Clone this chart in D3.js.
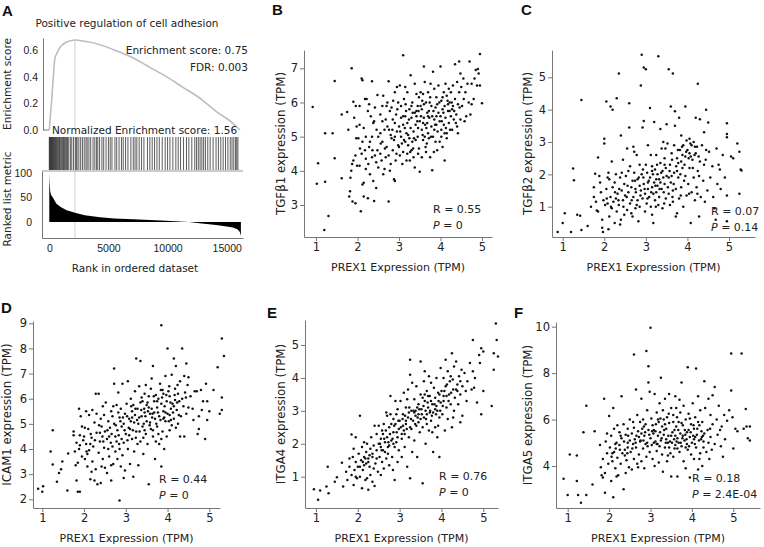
<!DOCTYPE html>
<html><head><meta charset="utf-8">
<script src="https://cdn.jsdelivr.net/npm/d3@7"></script>
<style>
body{margin:0;background:#fff;}
svg{display:block;font-family:"DejaVu Sans",Verdana,sans-serif;}
.axis path,.axis line{stroke:#777;}
.axis text{fill:#222;}
</style></head><body>
<svg id="c" width="764" height="547"></svg>
<script>
// ---------- Panel A data ----------
const esRanks  = [0,100,200,300,480,700,900,1200,1470,1800,2170,3000,4290,5500,7100,8500,9900,11300,12700,14100,15530,16120];
const esValues = [0,0.12,0.22,0.35,0.54,0.585,0.62,0.645,0.66,0.67,0.675,0.665,0.64,0.60,0.54,0.47,0.40,0.32,0.24,0.14,0.05,0.0];
const peakRank = 2170;
const hitRanks = [0,30,60,90,120,150,180,220,260,300,340,380,420,470,520,570,620,680,740,800,860,920,990,1060,1130,1200,1280,1360,1450,1540,1640,
 1780,1900,2050,2200,2280,2350,2500,2650,2800,2950,3100,3200,3350,3500,3700,3850,4000,4100,4250,4450,4600,4800,5000,5150,5300,5550,5700,5900,
 6100,6250,6450,6650,6900,7100,7250,7400,7600,7800,8000,8300,8500,8700,8900,9100,9300,9550,9800,10000,10200,10450,10700,10900,11100,11350,
 11600,11800,12050,12300,12450,12600,12750,12900,13050,13200,13400,13600,13850,14100,14300,14500,14700,14900,15100,15300,15450,15600,15750,15850,15950];
const metricRanks  = [0,30,80,150,300,600,1000,1470,2170,3000,4290,5500,7100,8500,9900,11000,11800,12700,14100,15000,15530,15900,16100,16200];
const metricValues = [100,80,62,55,50,37,30,24,19,14,9.6,7,5.4,4,2.7,1,0,-2.7,-6,-9,-11,-15,-20,-28];
const esTicks = [0.0,0.2,0.4,0.6];
const metricTicks = [0,50,100];
const rankTicks = [0,5000,10000,15000];
const gseaTitle = "Positive regulation of cell adhesion";
const gseaStats = ["Enrichment score: 0.75","FDR: 0.003","Normalized Enrichment score: 1.56"];

// ---------- Scatter data (PREX1 TPM, gene TPM) ----------
const xTicks = [1,2,3,4,5];
const pointsB = [[0.92,5.87],[1.02,3.62],[1.05,4.22],[1.22,5.1],[1.4,5.1],[1.22,3.68],[1.3,2.68],[1.2,2.27],[1.45,6.63],[1.45,4.37],
[1.62,3.78],[1.62,5.65],[1.75,5.72],[1.8,3.25],[1.82,3.4],[1.86,7.0],[1.88,3.1],[1.85,4.0],[1.87,4.2],[1.9,6.02],[1.92,5.55],[1.95,4.45],[1.97,4.95],[1.98,5.3],[1.83,3.8],[1.9,4.3],[1.99,4.15],[1.96,5.9],[1.78,5.2],[1.95,3.05],
[2.02,4.95],[2.05,5.35],[2.05,4.15],[2.08,2.82],[2.1,6.7],[2.12,6.65],[2.1,4.5],[2.12,3.6],[2.15,3.65],[2.15,3.25],[2.18,6.1],[2.2,5.0],[2.2,4.35],[2.22,6.1],[2.25,3.2],[2.25,5.75],[2.28,4.7],[2.3,4.85],[2.3,3.9],[2.32,5.6],[2.35,6.62],[2.35,4.4],[2.38,5.4],[2.38,3.7],[2.4,3.12],[2.4,5.45],[2.42,4.45],[2.45,4.25],[2.45,3.5],[2.48,6.22],[2.5,5.0],[2.5,4.1],[2.15,5.25],[2.28,5.95],[2.42,5.85],[2.05,5.9],[2.2,4.05],[2.35,5.0],[2.48,4.6],[2.12,4.85],
[2.55,5.65],[2.55,4.5],[2.58,4.3],[2.6,5.9],[2.6,4.85],[2.62,3.9],[2.65,5.2],[2.65,4.05],[2.68,5.5],[2.7,4.7],[2.72,6.0],[2.72,5.3],[2.75,6.62],[2.75,3.1],[2.75,4.45],[2.78,5.75],[2.8,5.05],[2.8,4.2],[2.82,5.85],[2.85,4.6],[2.85,5.5],[2.88,3.75],[2.88,4.9],[2.9,3.7],[2.9,6.3],[2.9,5.4],[2.92,4.3],[2.95,6.45],[2.95,5.15],[2.98,4.75],[2.98,6.0],[2.55,5.1],[2.6,5.45],[2.68,4.4],[2.7,5.9],[2.82,4.95],[2.93,5.65],[2.62,6.2],[2.78,4.0],[2.86,6.05],
[3.0,5.3],[3.0,4.7],[3.02,6.5],[3.05,5.9],[3.05,5.0],[3.08,4.2],[3.1,7.38],[3.1,5.35],[3.1,4.55],[3.12,6.1],[3.15,4.85],[3.15,5.6],[3.18,5.1],[3.18,4.3],[3.2,6.3],[3.2,5.4],[3.22,4.75],[3.25,5.8],[3.25,4.95],[3.28,6.8],[3.28,5.25],[3.3,4.6],[3.3,5.55],[3.32,6.0],[3.35,5.15],[3.35,4.4],[3.38,6.55],[3.38,5.7],[3.4,4.9],[3.4,5.35],[3.42,6.25],[3.45,5.0],[3.45,5.9],[3.48,4.65],[3.48,6.15],[3.5,5.45],[3.5,3.97],[3.12,4.9],[3.22,5.05],[3.32,4.85],[3.42,5.6],[3.05,5.55],[3.15,6.45],[3.38,4.1],[3.26,4.3],[3.46,5.25],[3.02,4.45],
[3.52,6.3],[3.55,5.2],[3.55,5.8],[3.58,4.9],[3.58,6.25],[3.6,7.05],[3.6,5.55],[3.62,5.0],[3.65,6.0],[3.65,4.55],[3.68,5.4],[3.7,6.3],[3.7,5.1],[3.72,5.75],[3.75,4.4],[3.75,6.15],[3.78,5.3],[3.78,5.9],[3.8,4.02],[3.8,5.6],[3.82,6.9],[3.82,5.0],[3.85,6.4],[3.85,5.5],[3.88,4.85],[3.88,5.85],[3.9,6.15],[3.9,5.35],[3.92,4.6],[3.95,5.7],[3.95,6.5],[3.98,5.45],[3.98,4.85],[3.55,4.4],[3.62,6.6],[3.72,4.95],[3.68,5.7],[3.85,5.2],[3.92,5.95],[3.76,6.55],[3.58,5.4],[3.66,5.25],
[4.0,7.05],[4.0,5.6],[4.02,6.05],[4.02,5.0],[4.05,5.8],[4.05,4.7],[4.08,6.3],[4.08,5.35],[4.1,5.9],[4.1,4.3],[4.12,6.55],[4.12,5.55],[4.15,6.2],[4.15,5.1],[4.18,5.75],[4.2,6.4],[4.2,5.4],[4.22,6.0],[4.25,5.6],[4.25,6.3],[4.28,5.2],[4.3,5.9],[4.3,6.5],[4.32,5.5],[4.35,7.12],[4.35,6.1],[4.38,5.65],[4.4,6.6],[4.4,5.3],[4.42,5.95],[4.45,7.2],[4.45,6.3],[4.48,5.5],[4.48,6.85],[4.05,6.15],[4.18,5.95],[4.28,5.8],[4.42,5.1],[4.15,4.95],
[4.5,6.45],[4.52,5.9],[4.55,6.7],[4.6,6.3],[4.62,5.6],[4.65,6.55],[4.7,7.2],[4.72,5.65],[4.75,5.95],[4.75,6.55],[4.8,6.1],[4.82,6.7],[4.88,6.5],[4.9,6.98],[4.92,6.85],[4.95,7.42],[4.95,6.5],[5.0,5.98],[4.58,5.45],[4.68,6.0],[4.85,6.95],
[2.84,5.2],[2.96,5.8],[3.03,5.15],[3.07,4.8],[3.14,5.25],[3.17,5.75],[3.24,5.5],[3.27,4.55],[3.33,5.7],[3.36,4.95],[3.44,5.45],[3.47,5.75],[3.53,5.6],[3.57,5.05],[3.63,5.35],[3.67,4.8],[3.73,5.55],[3.77,5.0],[3.83,5.75],[3.87,5.35],[3.93,5.15],[3.97,6.0],[4.03,5.45],[4.07,5.7],[4.13,5.25],[4.17,6.05],[4.23,5.2],[4.27,6.0],[4.33,5.75],[4.37,5.4],[3.34,4.65],[3.56,6.05],[3.74,6.0],[3.46,4.5],[3.16,5.95],[2.94,4.5],[2.76,5.2],[2.66,4.65],[2.46,5.2],[2.26,4.2],[2.56,4.8],[2.36,4.6],[2.18,4.6],[2.06,4.65],[3.64,4.7],[3.84,4.55],[4.02,5.2],[4.22,5.75],[4.46,5.85],[4.56,6.1],[3.52,5.9],[3.3,5.9],[3.1,5.6],[3.2,4.5],[2.9,5.0],[3.6,5.95],[3.9,5.6],[4.1,5.1],[3.42,5.75],[3.7,5.6]];

const pointsC = [[0.88,0.22],[1.0,0.5],[1.05,0.8],[1.2,0.22],[1.25,2.18],[1.27,1.82],[1.35,0.75],[1.42,0.72],[1.45,0.28],[1.45,4.3],[1.6,0.4],[1.68,1.0],[1.75,1.6],[1.78,2.02],[1.85,2.52],[1.82,0.88],[1.85,0.85],[1.95,0.35],[1.97,0.22],[2.0,3.1],[2.0,2.95],[1.75,1.3],[1.8,1.15],[1.9,1.75],[1.92,1.45],[1.95,0.6],[1.98,1.2],[1.88,1.95],
[2.02,1.05],[2.05,4.25],[2.05,1.55],[2.08,1.9],[2.1,0.3],[2.1,2.05],[2.12,0.7],[2.15,4.1],[2.15,1.3],[2.18,0.95],[2.2,4.0],[2.2,1.6],[2.22,1.15],[2.25,0.5],[2.25,1.75],[2.28,2.0],[2.3,4.35],[2.3,0.85],[2.32,1.4],[2.35,5.12],[2.35,1.05],[2.38,1.9],[2.4,3.2],[2.4,0.6],[2.42,1.5],[2.45,1.2],[2.45,2.45],[2.48,0.75],[2.48,1.7],[2.5,1.35],[2.12,1.85],[2.28,1.25],[2.38,0.45],[2.18,2.4],[2.08,1.1],[2.42,2.05],
[2.52,1.95],[2.55,0.9],[2.55,2.8],[2.58,1.45],[2.6,3.45],[2.6,4.2],[2.62,1.1],[2.62,2.25],[2.65,1.6],[2.68,0.7],[2.7,2.85],[2.7,1.3],[2.72,2.05],[2.75,1.55],[2.75,0.95],[2.78,2.6],[2.8,1.2],[2.8,1.85],[2.82,0.55],[2.85,2.3],[2.85,1.0],[2.88,4.75],[2.88,1.5],[2.9,5.7],[2.9,2.0],[2.92,3.45],[2.92,1.25],[2.95,5.3],[2.95,3.65],[2.95,1.7],[2.98,0.85],[3.0,5.25],[3.0,2.3],[2.58,2.1],[2.68,1.8],[2.78,1.05],[2.65,0.8],[2.85,1.65],[2.72,2.7],[2.98,1.4],
[3.02,1.1],[3.05,1.55],[3.05,2.9],[3.08,1.3],[3.1,4.05],[3.1,1.9],[3.12,1.0],[3.15,2.25],[3.15,1.6],[3.18,0.5],[3.2,3.62],[3.2,1.75],[3.22,1.2],[3.25,2.6],[3.25,1.45],[3.28,2.0],[3.3,5.65],[3.3,1.05],[3.32,1.85],[3.35,3.4],[3.35,2.35],[3.38,1.55],[3.4,2.1],[3.4,0.95],[3.42,3.0],[3.45,1.7],[3.45,2.5],[3.48,1.25],[3.5,3.55],[3.5,1.95],[3.12,2.6],[3.22,2.15],[3.28,1.65],[3.38,2.8],[3.05,1.75],[3.18,1.4],[3.48,2.2],[3.32,1.3],[3.42,1.9],[3.15,0.75],
[3.52,2.95],[3.55,5.25],[3.55,1.4],[3.58,2.3],[3.6,4.1],[3.6,1.75],[3.62,2.65],[3.65,5.12],[3.65,1.15],[3.68,2.05],[3.7,3.95],[3.7,3.5],[3.72,1.55],[3.75,2.5],[3.75,0.8],[3.78,1.9],[3.8,3.75],[3.8,1.25],[3.82,2.75],[3.85,1.6],[3.85,3.2],[3.88,2.2],[3.9,1.0],[3.9,2.9],[3.92,1.8],[3.95,4.1],[3.95,2.55],[3.98,1.35],[3.98,3.05],[3.58,1.05],[3.68,2.9],[3.78,2.35],[3.88,2.6],[3.62,1.95],[3.72,0.7],
[4.0,2.75],[4.02,1.7],[4.05,3.1],[4.05,2.2],[4.08,0.5],[4.1,2.9],[4.1,1.45],[4.12,2.45],[4.15,3.0],[4.15,1.9],[4.18,1.2],[4.2,3.75],[4.2,2.65],[4.22,1.6],[4.25,4.8],[4.25,2.1],[4.28,0.7],[4.3,3.7],[4.3,2.4],[4.32,1.3],[4.35,2.9],[4.38,1.8],[4.4,2.3],[4.42,1.15],[4.45,4.0],[4.45,2.75],[4.48,1.5],[4.5,3.6],[4.08,2.55],[4.18,2.85],[4.28,1.95],[4.4,3.3],
[4.52,2.7],[4.55,1.9],[4.6,2.25],[4.62,1.3],[4.65,0.95],[4.7,2.8],[4.72,1.7],[4.75,2.3],[4.78,2.15],[4.8,1.55],[4.85,2.6],[4.9,1.9],[4.95,3.58],[4.95,3.25],[4.95,3.15],[4.95,1.35],[4.95,0.55],[5.05,2.55],[5.1,2.5],[5.2,2.95],[5.25,2.7],[5.28,2.15],[5.3,2.12],[5.25,1.4],[4.68,0.6],
[2.83,1.9],[2.87,1.35],[2.93,2.15],[2.97,1.55],[3.03,2.05],[3.07,1.8],[3.13,1.45],[3.17,2.0],[3.23,1.65],[3.27,2.3],[3.33,1.55],[3.37,2.05],[3.43,1.45],[3.47,2.8],[3.53,1.6],[3.57,2.1],[3.63,2.45],[3.67,1.7],[3.73,2.25],[3.77,2.75],[3.83,2.0],[3.87,2.85],[3.93,2.3],[3.97,2.7],[4.03,2.5],[4.07,2.95],[4.13,2.2],[4.17,2.6],[4.23,2.85],[4.27,2.55],[3.25,1.85],[3.45,2.3],[3.65,1.5],[3.85,2.4],[4.05,2.65],[3.15,2.1],[3.35,1.75],[3.55,1.9],[3.75,2.1],[3.95,1.95],[2.76,1.45],[2.66,1.2],[2.56,1.65],[2.46,1.0],[2.36,1.55],[2.26,1.45],[2.16,1.0],[2.06,1.25],[2.34,1.2],[2.54,1.3],[2.74,1.8],[2.94,1.9],[3.04,1.25],[3.24,1.0],[3.44,1.1],[3.64,1.3],[3.84,1.35],[4.04,1.4],[4.24,1.4],[4.44,2.45]];

const pointsD = [[0.9,2.42],[1.0,2.3],[1.02,2.52],[1.2,3.9],[1.25,4.75],[1.25,3.38],[1.35,2.7],[1.4,3.05],[1.45,3.2],[1.48,3.5],[1.6,2.35],[1.62,3.82],[1.75,4.7],[1.75,4.55],[1.82,2.75],[1.85,2.3],[1.9,2.3],[1.88,5.6],[1.78,3.9],[1.8,3.35],[1.85,3.45],[1.9,4.15],[1.92,5.3],[1.95,4.9],[1.98,4.35],[1.82,4.25],[1.95,3.7],[1.88,4.0],[1.9,4.55],
[2.0,4.5],[2.02,3.6],[2.05,5.5],[2.05,4.2],[2.08,3.3],[2.1,4.8],[2.12,5.35],[2.12,3.95],[2.15,2.8],[2.18,4.45],[2.2,5.55],[2.2,3.5],[2.22,4.1],[2.25,2.75],[2.25,5.05],[2.28,6.2],[2.28,3.2],[2.3,4.65],[2.32,2.6],[2.35,6.2],[2.35,3.85],[2.38,4.3],[2.4,5.2],[2.4,2.65],[2.42,4.9],[2.45,3.6],[2.45,5.7],[2.48,4.05],[2.5,3.25],[2.5,4.7],[2.15,4.2],[2.08,3.8],[2.3,5.4],[2.18,3.1],[2.42,3.3],[2.38,4.65],[2.48,5.35],[2.02,4.85],
[2.52,5.85],[2.55,4.4],[2.55,3.05],[2.58,5.1],[2.6,3.7],[2.62,4.85],[2.65,2.75],[2.65,5.5],[2.68,4.1],[2.7,3.4],[2.72,7.2],[2.72,6.6],[2.72,5.0],[2.75,4.5],[2.75,3.9],[2.78,5.75],[2.8,3.6],[2.8,4.75],[2.82,6.25],[2.85,1.95],[2.85,5.25],[2.85,4.0],[2.88,3.3],[2.88,5.6],[2.9,4.4],[2.92,6.6],[2.92,3.75],[2.95,5.0],[2.95,4.25],[2.98,5.4],[2.98,3.15],[2.6,4.5],[2.68,5.3],[2.78,4.3],[2.58,4.0],[2.82,5.45],[2.9,4.9],[2.7,5.7],[2.95,2.85],[2.65,3.35],
[3.0,4.6],[3.02,5.8],[3.05,4.0],[3.05,6.7],[3.08,5.2],[3.1,3.4],[3.1,4.8],[3.12,6.0],[3.15,4.4],[3.15,5.5],[3.18,2.9],[3.2,5.05],[3.2,3.9],[3.22,6.3],[3.25,7.6],[3.25,4.7],[3.28,5.6],[3.3,3.35],[3.3,5.0],[3.32,6.5],[3.35,7.5],[3.35,4.3],[3.38,5.3],[3.4,5.9],[3.4,4.9],[3.42,3.8],[3.45,5.45],[3.45,6.2],[3.48,4.6],[3.5,5.1],[3.5,5.75],[3.08,4.55],[3.18,5.75],[3.28,4.2],[3.38,6.05],[3.12,5.1],[3.42,4.45],[3.22,5.35],[3.48,6.55],[3.32,5.25],
[3.52,4.2],[3.55,2.6],[3.55,6.1],[3.58,5.4],[3.6,4.8],[3.6,6.4],[3.62,5.6],[3.65,7.3],[3.65,4.5],[3.68,5.9],[3.7,5.2],[3.7,3.6],[3.72,6.15],[3.75,4.9],[3.75,5.65],[3.78,6.0],[3.8,4.2],[3.8,5.3],[3.82,6.6],[3.85,3.3],[3.85,8.92],[3.85,5.8],[3.88,4.7],[3.9,6.2],[3.9,5.5],[3.92,4.0],[3.95,6.9],[3.95,5.1],[3.98,5.9],[3.98,4.5],[3.58,5.05],[3.68,5.45],[3.78,4.6],[3.88,6.35],[3.62,6.8],[3.72,4.3],[3.92,5.25],[3.52,5.85],
[4.0,8.0],[4.0,5.4],[4.02,6.3],[4.05,4.75],[4.05,6.1],[4.08,5.6],[4.1,6.95],[4.1,4.95],[4.12,5.8],[4.15,7.6],[4.15,5.2],[4.18,6.4],[4.2,7.3],[4.2,4.85],[4.22,5.55],[4.25,6.2],[4.28,5.9],[4.3,4.5],[4.3,6.7],[4.32,5.3],[4.35,8.0],[4.35,6.0],[4.38,5.7],[4.4,4.5],[4.4,6.9],[4.42,6.25],[4.45,7.4],[4.45,5.4],[4.48,6.55],[4.5,5.65],[4.5,6.85],[4.08,5.15],[4.25,5.0],[4.18,5.95],
[4.55,6.1],[4.6,5.6],[4.65,6.3],[4.7,6.3],[4.72,4.6],[4.75,4.8],[4.75,5.3],[4.8,6.35],[4.85,5.9],[4.9,4.4],[4.92,6.6],[4.95,5.15],[4.95,5.9],[5.0,5.5],[5.1,6.35],[5.2,7.25],[5.25,5.4],[5.3,6.05],[5.3,5.55],[5.3,8.4],[5.35,7.7],[4.62,5.15],[4.82,5.55],
[2.83,4.55],[2.87,5.1],[2.93,5.25],[2.97,4.75],[3.03,5.3],[3.07,4.85],[3.13,5.7],[3.17,4.75],[3.23,5.6],[3.27,5.15],[3.33,4.7],[3.37,5.55],[3.43,5.0],[3.47,5.3],[3.53,5.5],[3.57,4.95],[3.63,5.25],[3.67,6.1],[3.73,5.0],[3.77,5.45],[3.83,5.15],[3.87,6.05],[3.93,5.7],[3.97,6.15],[4.03,5.1],[4.07,5.85],[4.13,5.45],[4.17,6.15],[4.23,5.85],[4.27,5.35],[3.35,5.85],[3.55,5.65],[3.75,5.9],[3.95,5.45],[4.15,5.7],[3.15,5.25],[3.45,4.75],[3.65,4.75],[3.85,4.4],[4.05,5.35],[2.76,4.95],[2.66,4.6],[2.56,4.75],[2.46,4.3],[2.36,4.95],[2.26,4.35],[2.16,4.6],[2.06,3.9],[2.44,4.5],[2.64,4.25],[2.84,4.2],[3.04,4.35],[3.24,4.45],[3.44,5.6],[3.64,5.4],[3.84,6.35],[4.04,6.5],[4.24,6.55],[4.44,6.05],[3.9,5.2]];

const pointsE = [[0.95,0.62],[1.05,0.3],[1.1,0.58],[1.25,0.7],[1.28,1.3],[1.3,0.5],[1.45,0.85],[1.5,0.98],[1.62,1.42],[1.65,0.7],[1.72,1.15],[1.75,0.9],[1.8,1.3],[1.85,2.28],[1.85,1.05],[1.88,1.6],[1.9,0.75],[1.92,1.2],[1.95,2.2],[1.95,1.45],[1.98,0.95],[1.8,1.55],[1.9,1.85],
[2.0,1.3],[2.02,1.7],[2.05,2.85],[2.05,1.0],[2.08,1.5],[2.1,0.65],[2.1,1.9],[2.12,1.2],[2.15,1.6],[2.15,2.05],[2.18,0.9],[2.2,1.4],[2.2,1.75],[2.22,2.0],[2.25,0.6],[2.25,1.55],[2.28,1.3],[2.3,1.85],[2.3,1.05],[2.32,2.2],[2.35,1.6],[2.35,0.85],[2.38,1.95],[2.4,0.72],[2.4,2.55],[2.42,1.4],[2.45,1.8],[2.45,2.3],[2.48,1.15],[2.5,2.0],[2.5,2.55],[2.12,1.45],[2.28,1.65],[2.18,1.55],[2.38,1.25],[2.05,1.3],[2.22,0.95],
[2.52,1.6],[2.55,2.15],[2.55,1.05],[2.58,2.4],[2.6,1.8],[2.62,2.6],[2.62,1.25],[2.65,2.05],[2.68,1.55],[2.7,2.85],[2.7,2.2],[2.72,1.7],[2.75,2.5],[2.75,1.35],[2.78,2.9],[2.78,3.45],[2.8,2.1],[2.82,1.6],[2.85,2.75],[2.85,2.35],[2.88,0.9],[2.88,1.9],[2.9,3.3],[2.9,2.6],[2.92,2.05],[2.95,1.45],[2.95,3.05],[2.98,2.45],[2.98,1.8],[2.6,2.3],[2.68,2.95],[2.8,2.6],[2.72,1.9],[2.92,2.9],[2.58,1.45],[2.84,1.2],
[3.0,2.7],[3.02,3.3],[3.05,2.15],[3.05,1.6],[3.08,2.9],[3.1,3.55],[3.1,2.4],[3.12,1.9],[3.15,3.1],[3.15,2.6],[3.18,1.3],[3.2,3.65],[3.2,2.8],[3.22,2.2],[3.25,4.55],[3.25,4.1],[3.25,0.95],[3.28,3.0],[3.28,2.45],[3.3,3.85],[3.3,1.75],[3.32,2.7],[3.35,3.35],[3.35,2.1],[3.38,3.0],[3.4,2.55],[3.4,3.75],[3.42,1.6],[3.45,3.2],[3.45,2.9],[3.48,2.35],[3.5,4.5],[3.5,3.5],[3.5,2.75],[3.08,2.55],[3.18,3.35],[3.38,2.85],[3.22,2.95],[3.42,3.1],[3.12,2.3],
[3.52,3.05],[3.55,0.8],[3.55,2.5],[3.58,3.9],[3.6,4.2],[3.6,3.3],[3.62,2.0],[3.65,2.9],[3.65,3.6],[3.68,3.1],[3.7,4.05],[3.7,2.4],[3.72,3.45],[3.75,2.7],[3.75,3.85],[3.78,3.2],[3.8,1.75],[3.8,2.95],[3.82,3.7],[3.85,2.5],[3.85,3.4],[3.88,4.0],[3.9,3.0],[3.9,2.2],[3.92,3.55],[3.95,1.6],[3.95,2.8],[3.98,4.3],[3.98,3.25],[3.58,2.8],[3.68,3.45],[3.78,2.35],[3.88,3.15],[3.62,3.0],[3.72,2.95],[3.92,2.55],
[4.0,3.6],[4.02,2.9],[4.05,4.0],[4.05,3.3],[4.08,2.4],[4.1,4.55],[4.1,3.75],[4.12,3.1],[4.15,4.2],[4.15,2.75],[4.18,3.5],[4.2,3.9],[4.22,3.2],[4.25,4.75],[4.25,2.5],[4.28,3.65],[4.3,4.35],[4.3,3.0],[4.32,3.4],[4.35,4.5],[4.38,3.8],[4.4,3.2],[4.42,4.05],[4.45,2.65],[4.45,3.5],[4.48,4.25],[4.5,3.75],[4.5,2.85],[4.12,3.45],[4.22,4.05],[4.38,3.6],[4.28,2.8],
[4.55,4.15],[4.6,3.3],[4.62,3.9],[4.68,4.45],[4.72,3.65],[4.75,5.15],[4.75,4.2],[4.78,3.7],[4.8,4.0],[4.85,3.25],[4.9,4.7],[4.92,4.45],[4.95,4.9],[4.95,2.9],[5.0,3.6],[5.0,4.8],[5.2,3.15],[5.25,4.25],[5.25,4.75],[5.3,5.65],[5.32,5.15],[5.35,4.65],[4.58,3.6],
[2.53,2.0],[2.57,1.8],[2.63,2.15],[2.67,2.4],[2.73,2.05],[2.77,2.3],[2.83,2.15],[2.87,2.55],[2.93,2.35],[2.97,2.7],[3.03,2.5],[3.07,2.75],[3.13,2.85],[3.17,2.45],[3.23,3.1],[3.27,2.75],[3.33,3.0],[3.37,2.6],[3.43,2.8],[3.47,3.05],[3.53,2.9],[3.57,3.15],[3.63,2.75],[3.67,3.25],[3.73,3.0],[3.77,2.85],[3.83,3.2],[3.87,2.9],[3.93,3.3],[3.97,3.0],[4.03,3.15],[4.07,3.6],[4.13,3.8],[4.17,3.3],[4.23,3.55],[4.27,3.95],[3.35,2.95],[3.55,3.4],[3.75,3.3],[3.95,3.5],[3.15,2.7],[2.95,2.2],[2.75,1.95],[2.55,1.9],[2.35,1.7],[2.15,1.35],[1.95,1.0],[2.25,1.45],[2.45,1.55],[2.65,1.75],[2.85,2.0],[3.05,2.3],[3.25,2.5],[3.45,2.65],[3.65,2.6],[3.85,3.05],[4.05,3.45],[4.35,3.65],[4.45,3.9],[3.6,3.5]];

const pointsF = [[0.9,3.45],[1.0,2.75],[1.05,4.5],[1.22,4.45],[1.22,3.35],[1.25,2.75],[1.32,2.42],[1.38,5.45],[1.45,6.6],[1.45,2.75],[1.6,3.2],[1.65,5.5],[1.78,4.9],[1.8,3.95],[1.82,3.6],[1.85,4.3],[1.88,6.9],[1.9,2.85],[1.9,3.7],[1.92,5.05],[1.95,4.55],[1.98,4.1],[1.85,3.5],[1.95,5.4],
[2.0,6.15],[2.02,4.8],[2.05,3.35],[2.05,5.3],[2.08,4.2],[2.1,6.5],[2.1,2.65],[2.12,4.6],[2.12,5.6],[2.15,3.9],[2.18,5.0],[2.2,4.35],[2.2,5.75],[2.22,3.6],[2.25,4.9],[2.25,5.45],[2.28,4.1],[2.3,7.0],[2.3,5.2],[2.32,4.55],[2.35,3.0],[2.35,5.8],[2.38,4.7],[2.4,3.7],[2.4,5.35],[2.42,4.25],[2.45,5.6],[2.45,4.8],[2.48,3.95],[2.5,5.1],[2.5,6.0],[2.15,4.95],[2.28,5.3],[2.08,4.55],[2.38,4.45],[2.18,3.55],[2.45,5.0],
[2.52,4.6],[2.55,5.4],[2.55,3.85],[2.58,5.9],[2.6,8.8],[2.6,4.3],[2.62,5.15],[2.65,7.3],[2.65,4.8],[2.68,6.2],[2.7,3.95],[2.7,5.5],[2.72,4.5],[2.75,5.9],[2.75,5.05],[2.78,6.9],[2.78,4.2],[2.8,5.6],[2.82,4.75],[2.85,3.9],[2.85,5.3],[2.88,5.8],[2.9,8.95],[2.9,4.4],[2.92,6.4],[2.92,5.0],[2.95,8.3],[2.95,7.6],[2.95,5.55],[2.98,4.6],[2.98,7.2],[2.6,5.65],[2.72,5.25],[2.82,6.0],[2.68,4.1],[2.88,4.95],[2.58,4.95],[2.78,5.4],
[3.0,9.95],[3.0,5.2],[3.02,6.05],[3.05,4.3],[3.05,5.75],[3.08,5.0],[3.1,7.1],[3.1,4.0],[3.12,5.5],[3.15,6.3],[3.15,4.65],[3.18,5.3],[3.2,5.9],[3.2,4.15],[3.22,6.7],[3.25,7.8],[3.25,5.1],[3.28,4.5],[3.28,5.7],[3.3,6.4],[3.3,3.75],[3.32,5.35],[3.35,4.8],[3.35,6.9],[3.38,5.6],[3.4,4.2],[3.4,6.1],[3.42,5.0],[3.45,5.85],[3.45,7.1],[3.48,4.55],[3.5,6.5],[3.5,3.55],[3.5,5.3],[3.12,5.05],[3.22,4.85],[3.38,5.15],[3.18,6.0],[3.42,4.45],[3.08,5.55],[3.32,6.0],
[3.52,5.0],[3.55,6.2],[3.55,4.4],[3.58,5.55],[3.6,7.0],[3.6,4.9],[3.62,6.5],[3.65,5.2],[3.65,3.55],[3.68,5.9],[3.7,4.6],[3.72,6.3],[3.72,5.4],[3.75,7.6],[3.75,4.85],[3.78,5.75],[3.8,4.2],[3.8,6.6],[3.82,5.1],[3.85,3.9],[3.85,6.0],[3.88,5.45],[3.9,8.25],[3.9,4.7],[3.92,6.25],[3.95,5.25],[3.95,3.5],[3.98,5.8],[3.98,4.5],[3.58,4.75],[3.68,5.0],[3.78,5.3],[3.88,4.95],[3.62,5.7],[3.92,5.55],[3.7,6.85],
[4.0,5.0],[4.02,6.7],[4.05,4.3],[4.05,5.6],[4.08,6.1],[4.1,8.2],[4.1,4.8],[4.12,5.35],[4.15,7.0],[4.15,3.85],[4.18,5.75],[4.2,4.55],[4.2,6.4],[4.22,5.15],[4.25,4.0],[4.25,5.9],[4.28,4.8],[4.3,7.65],[4.3,5.4],[4.32,6.5],[4.35,4.6],[4.38,5.55],[4.4,6.9],[4.4,5.0],[4.42,4.3],[4.45,6.2],[4.45,5.25],[4.48,4.7],[4.5,5.8],[4.5,7.05],[4.08,5.25],[4.28,5.05],[4.18,4.3],
[4.55,7.4],[4.55,4.95],[4.6,6.0],[4.62,5.35],[4.65,6.6],[4.7,4.85],[4.72,5.7],[4.75,4.4],[4.78,6.2],[4.8,5.15],[4.85,5.95],[4.9,6.4],[4.95,7.25],[4.95,8.85],[4.98,6.1],[5.0,4.75],[5.05,5.6],[5.1,5.5],[5.2,8.85],[5.25,5.6],[5.3,6.45],[5.32,5.7],[5.35,5.2],[5.4,5.1],[5.4,5.7],[4.68,5.55],
[2.83,5.1],[2.87,5.45],[2.93,4.85],[2.97,5.35],[3.03,4.9],[3.07,5.4],[3.13,5.8],[3.17,4.95],[3.23,5.45],[3.27,5.2],[3.33,5.55],[3.37,5.0],[3.43,5.3],[3.47,5.05],[3.53,5.45],[3.57,5.15],[3.63,5.05],[3.67,5.55],[3.73,5.0],[3.77,5.2],[3.83,5.55],[3.87,5.15],[3.93,4.85],[3.97,5.45],[4.03,5.3],[4.07,4.95],[4.13,5.6],[4.17,5.1],[4.23,5.5],[4.27,5.3],[3.35,5.8],[3.55,5.9],[3.75,5.85],[3.95,6.05],[4.15,5.9],[3.15,4.95],[3.45,4.8],[3.65,4.75],[3.85,4.8],[4.05,5.15],[2.76,5.1],[2.66,5.3],[2.56,4.75],[2.46,5.3],[2.36,5.05],[2.26,4.7],[2.16,4.75],[2.06,4.4],[2.44,4.55],[2.64,5.0],[2.84,5.7],[3.04,5.5],[3.24,6.05],[3.44,6.25],[3.64,6.1],[3.84,5.35],[4.04,5.75],[4.24,5.25],[4.44,5.6],[3.6,5.3]];

const yTicksB = [3,4,5,6,7], yTicksC = [1,2,3,4,5], yTicksD = [2,3,4,5,6,7,8,9], yTicksE = [1,2,3,4,5], yTicksF = [4,6,8,10];
const xTitle = "PREX1 Expression (TPM)";
const yTitles = ["TGFβ1 expression (TPM)","TGFβ2 expression (TPM)","ICAM1 expression (TPM)","ITGA4 expression (TPM)","ITGA5 expression (TPM)"];
const rValues = ["0.55","0.07","0.44","0.76","0.18"];
const pValues = ["0","0.14","0","0","2.4E-04"];
const letters = ["A","B","C","D","E","F"];

// ---------- drawing ----------
const svg = d3.select("#c");
const TXT = "#222";
const intFmt = d3.format("d");

function extScale(v0, v1, p0, p1, lo, hi){
  const s = d3.scaleLinear().domain([v0, v1]).range([p0, p1]);
  return d3.scaleLinear().domain([s.invert(lo), s.invert(hi)]).range([lo, hi]);
}
function letter(t, x, y){
  svg.append("text").attr("x", x).attr("y", y).text(t)
    .style("font-family", "'Liberation Sans',Arial,sans-serif").style("font-weight", "bold")
    .style("font-size", "15px").attr("fill", "#111");
}

// Panel A
letter(letters[0], 2, 16);
const rx = extScale(0, 15000, 49.3, 226.7, 42, 243);
const esY = extScale(0, 0.6, 130, 50, 38, 130);
const mY = extScale(0, 100, 222, 173, 171, 238);
const gA = svg.append("g").style("font-size", "10.5px");
gA.append("text").attr("x", 127).attr("y", 27).attr("text-anchor", "middle").attr("fill", TXT).text(gseaTitle);
gA.append("line").attr("x1", rx(peakRank)).attr("x2", rx(peakRank)).attr("y1", esY(0.675)).attr("y2", esY(0)).attr("stroke", "#d0d0d0");
gA.append("line").attr("x1", rx(peakRank)).attr("x2", rx(peakRank)).attr("y1", 171).attr("y2", 238).attr("stroke", "#d0d0d0");
gA.append("path").datum(esRanks.map((r, i) => [r, esValues[i]]))
  .attr("d", d3.line().x(d => rx(d[0])).y(d => esY(d[1])).curve(d3.curveMonotoneX))
  .attr("fill", "none").attr("stroke", "#bdbdbd").attr("stroke-width", 1.6);
const esAx = gA.append("g").attr("class", "axis").attr("transform", "translate(43,0)")
  .call(d3.axisLeft(esY).tickValues(esTicks).tickFormat(d3.format(".1f")).tickSize(0).tickPadding(5));
esAx.selectAll("text").style("font-size", "10.5px");
gA.append("line").attr("x1", 43).attr("x2", 49).attr("y1", 130).attr("y2", 130).attr("stroke", "#777");
gA.append("text").attr("x", 248).attr("y", 54).attr("text-anchor", "end").attr("fill", TXT).text(gseaStats[0]);
gA.append("text").attr("x", 248).attr("y", 71).attr("text-anchor", "end").attr("fill", TXT).text(gseaStats[1]);
gA.append("g").selectAll("line").data(hitRanks).join("line")
  .attr("x1", d => rx(d)).attr("x2", d => rx(d)).attr("y1", 137).attr("y2", 170)
  .attr("stroke", "#333").attr("stroke-width", 0.8);
gA.append("text").attr("x", 52).attr("y", 134).attr("fill", TXT).text(gseaStats[2]);
gA.append("path").datum(metricRanks.map((r, i) => [r, metricValues[i]]))
  .attr("d", d3.area().x(d => rx(d[0])).y0(mY(0)).y1(d => mY(d[1])))
  .attr("fill", "#000");
gA.append("line").attr("x1", 42).attr("x2", 243).attr("y1", 171).attr("y2", 171).attr("stroke", "#999");
const mAx = gA.append("g").attr("class", "axis").attr("transform", "translate(42,0)")
  .call(d3.axisLeft(mY).tickValues(metricTicks).tickFormat(intFmt).tickSize(0).tickPadding(10));
mAx.selectAll("text").style("font-size", "10.5px");
const rAx = gA.append("g").attr("class", "axis").attr("transform", "translate(0,238)")
  .call(d3.axisBottom(rx).tickValues(rankTicks).tickFormat(intFmt).tickSize(0).tickPadding(7));
rAx.selectAll("text").style("font-size", "10.5px");
gA.append("text").attr("x", 135).attr("y", 272).attr("text-anchor", "middle").attr("fill", TXT).text("Rank in ordered dataset");
gA.append("text").attr("transform", "translate(11,84) rotate(-90)").attr("text-anchor", "middle").attr("fill", TXT).text("Enrichment score");
gA.append("text").attr("transform", "translate(11,199) rotate(-90)").attr("text-anchor", "middle").attr("fill", TXT).text("Ranked list metric");

// Scatter panels
const panels = [
  {pts: pointsB, yt: yTicksB, xp: [316, 482], yv: [3, 7], yp: [205, 68.3], L: 304, R: 492, T: 50, B: 237, lx: 272, ly: 15, ytx: 285, rx: 433, ry: 213},
  {pts: pointsC, yt: yTicksC, xp: [562.7, 729], yv: [1, 5], yp: [206.7, 77.3], L: 552, R: 755, T: 50, B: 237, lx: 521, ly: 15, ytx: 532, rx: 711, ry: 215},
  {pts: pointsD, yt: yTicksD, xp: [42.3, 209.3], yv: [2, 9], yp: [499.3, 323.3], L: 33, R: 220, T: 321, B: 508, lx: 1, ly: 313, ytx: 11, rx: 159, ry: 483},
  {pts: pointsE, yt: yTicksE, xp: [316, 483.3], yv: [1, 5], yp: [476.7, 345], L: 305, R: 498, T: 320, B: 508, lx: 267, ly: 318, ytx: 285, rx: 439, ry: 480},
  {pts: pointsF, yt: yTicksF, xp: [567.7, 733.3], yv: [4, 10], yp: [466, 326.7], L: 556, R: 760, T: 322, B: 508, lx: 514, ly: 318, ytx: 532, rx: 692, ry: 482}
];
panels.forEach((p, i) => {
  letter(letters[i + 1], p.lx, p.ly);
  const x = extScale(1, 5, p.xp[0], p.xp[1], p.L, p.R);
  const y = extScale(p.yv[0], p.yv[1], p.yp[0], p.yp[1], p.B, p.T);
  const g = svg.append("g");
  const xa = g.append("g").attr("class", "axis").attr("transform", `translate(0,${p.B})`)
    .call(d3.axisBottom(x).tickValues(xTicks).tickFormat(intFmt).tickSize(4).tickSizeOuter(0).tickPadding(2));
  xa.selectAll("text").style("font-size", "11.5px").style("font-family", "'DejaVu Sans',sans-serif");
  const ya = g.append("g").attr("class", "axis").attr("transform", `translate(${p.L},0)`)
    .call(d3.axisLeft(y).tickValues(p.yt).tickFormat(intFmt).tickSize(4).tickSizeOuter(0).tickPadding(2));
  ya.selectAll("text").style("font-size", "11.5px").style("font-family", "'DejaVu Sans',sans-serif");
  g.append("g").selectAll("circle").data(p.pts).join("circle")
    .attr("cx", d => x(d[0])).attr("cy", d => y(d[1])).attr("r", 1.25).attr("fill", "#111");
  g.append("text").attr("x", (p.L + p.R) / 2).attr("y", p.B + 34).attr("text-anchor", "middle")
    .style("font-size", "11px").attr("fill", TXT).text(xTitle);
  g.append("text").attr("transform", `translate(${p.ytx},${(p.T + p.B) / 2}) rotate(-90)`).attr("text-anchor", "middle")
    .style("font-size", "11.8px").attr("fill", TXT).text(yTitles[i]);
  g.append("text").attr("x", p.rx).attr("y", p.ry).style("font-size", "11px").attr("fill", TXT).text("R = " + rValues[i]);
  const pt = g.append("text").attr("x", p.rx).attr("y", p.ry + 16).style("font-size", "11px").attr("fill", TXT);
  pt.append("tspan").style("font-style", "italic").text("P");
  pt.append("tspan").text(" = " + pValues[i]);
});
</script>
</body></html>
